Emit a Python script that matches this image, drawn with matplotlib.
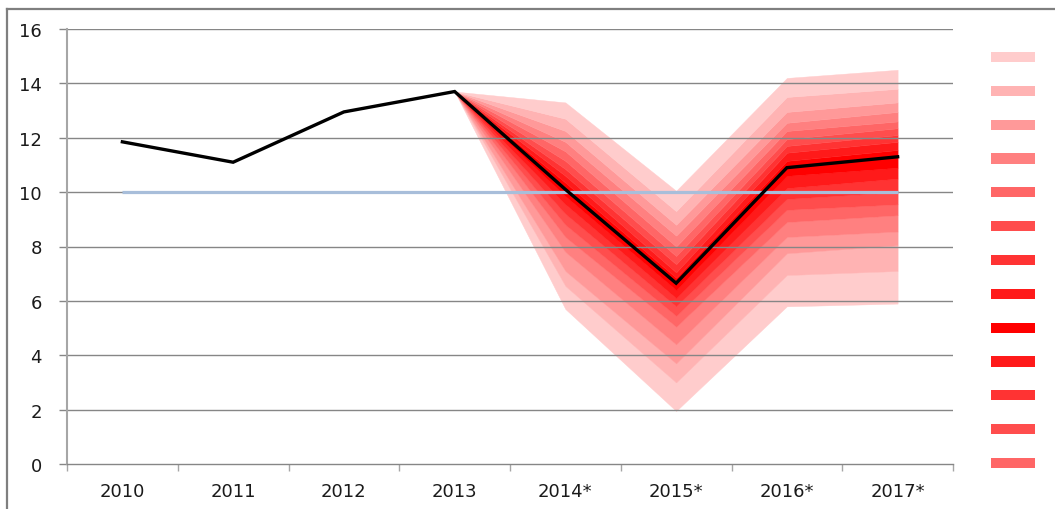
import numpy as np
import matplotlib
matplotlib.use("Agg")
import matplotlib.pyplot as plt
from matplotlib.lines import Line2D

# categories and the central path
years = ['2010', '2011', '2012', '2013', '2014*', '2015*', '2016*', '2017*']
central = [11.85, 11.1, 12.95, 13.7, 10.1, 6.65, 10.9, 11.3]
target = [10, 10, 10, 10, 10, 10, 10, 10]

# fan band edges (bottom -> top) for 2013 .. 2017*
fan_years = ['2013', '2014*', '2015*', '2016*', '2017*']
edges_2013 = [13.7] * 18
edges_2014 = [5.7, 6.55, 7.1, 7.8, 8.35, 8.8, 9.2, 9.55, 9.85,
              10.35, 10.6, 10.85, 11.15, 11.5, 11.85, 12.25, 12.7, 13.3]
edges_2015 = [1.95, 3.0, 3.7, 4.4, 5.05, 5.45, 5.8, 6.1, 6.4,
              6.85, 7.05, 7.35, 7.65, 8.0, 8.4, 8.8, 9.3, 10.05]
edges_2016 = [5.8, 6.95, 7.75, 8.35, 8.9, 9.35, 9.75, 10.15, 10.6,
              11.15, 11.45, 11.7, 11.95, 12.25, 12.55, 12.95, 13.5, 14.2]
edges_2017 = [5.9, 7.1, 8.05, 8.55, 9.15, 9.55, 10.0, 10.5, 10.9,
              11.55, 11.85, 12.1, 12.35, 12.6, 12.95, 13.3, 13.8, 14.5]

band_colors = ['#FFCCCC', '#FFB3B3', '#FF9999', '#FF8080', '#FF6666', '#FF4D4D',
               '#FF3333', '#FF1A1A', '#FF0000', '#FF1A1A', '#FF3333', '#FF4D4D',
               '#FF6666', '#FF8080', '#FF9999', '#FFB3B3', '#FFCCCC']
yticks = [0, 2, 4, 6, 8, 10, 12, 14, 16]

W, H = 1055, 510
fig = plt.figure(figsize=(W / 100, H / 100), dpi=100)
ax = fig.add_axes([67 / W, 1 - 465 / H, (953 - 67) / W, (465 - 30) / H])

x = np.arange(len(years))
xf = np.array([years.index(y) for y in fan_years])
edges = np.array([edges_2013, edges_2014, edges_2015, edges_2016, edges_2017])

for i, c in enumerate(band_colors):
    ax.fill_between(xf, edges[:, i], edges[:, i + 1], facecolor=c,
                    edgecolor=c, lw=0.3, zorder=1)

# gridlines drawn over the fan
for yv in yticks[1:]:
    ax.axhline(yv, color='#868686', lw=1.0, zorder=2)

ax.plot(x, target, color='#A8BEDA', lw=2.3, zorder=3, solid_capstyle='butt')
ax.plot(x, central, color='black', lw=2.4, zorder=4, solid_joinstyle='miter')

ax.set_xlim(-0.5, len(years) - 0.5)
ax.set_ylim(0, 16)
ax.set_yticks(yticks)
ax.set_xticks(x)
ax.set_xticklabels(years)
ax.set_xticks(np.arange(-0.5, len(years)), minor=True)

for s in ['top', 'right']:
    ax.spines[s].set_visible(False)
ax.spines['left'].set_color('#A6A6A6')
ax.spines['left'].set_linewidth(1.5)
ax.spines['bottom'].set_color('#868686')
ax.spines['bottom'].set_linewidth(1.0)
ax.spines['bottom'].set_zorder(5)

ax.tick_params(axis='y', length=6, width=1, color='#868686', pad=12,
               labelsize=13, labelcolor='#1a1a1a')
ax.tick_params(axis='x', which='major', length=0, pad=13,
               labelsize=13, labelcolor='#1a1a1a')
ax.tick_params(axis='x', which='minor', length=5, width=1, color='#A6A6A6')

# legend swatches (truncated like the original)
lax = fig.add_axes([991 / W, 1 - 481 / H, 44 / W, (481 - 41) / H])
leg_colors = band_colors[::-1][:13]
lax.barh(np.arange(len(leg_colors)), [1] * len(leg_colors), height=0.3,
         color=leg_colors, left=0)
lax.set_ylim(len(leg_colors) - 0.5, -0.5)
lax.set_xlim(0, 1)
lax.axis('off')

# outer frame (top and left edges visible)
fig.add_artist(Line2D([7 / W, 1], [1 - 9.5 / H, 1 - 9.5 / H], color='#7F7F7F', lw=1.6))
fig.add_artist(Line2D([7 / W, 7 / W], [0, 1 - 9.5 / H], color='#7F7F7F', lw=1.6))

fig.savefig('out.png', dpi=100, facecolor='white')
